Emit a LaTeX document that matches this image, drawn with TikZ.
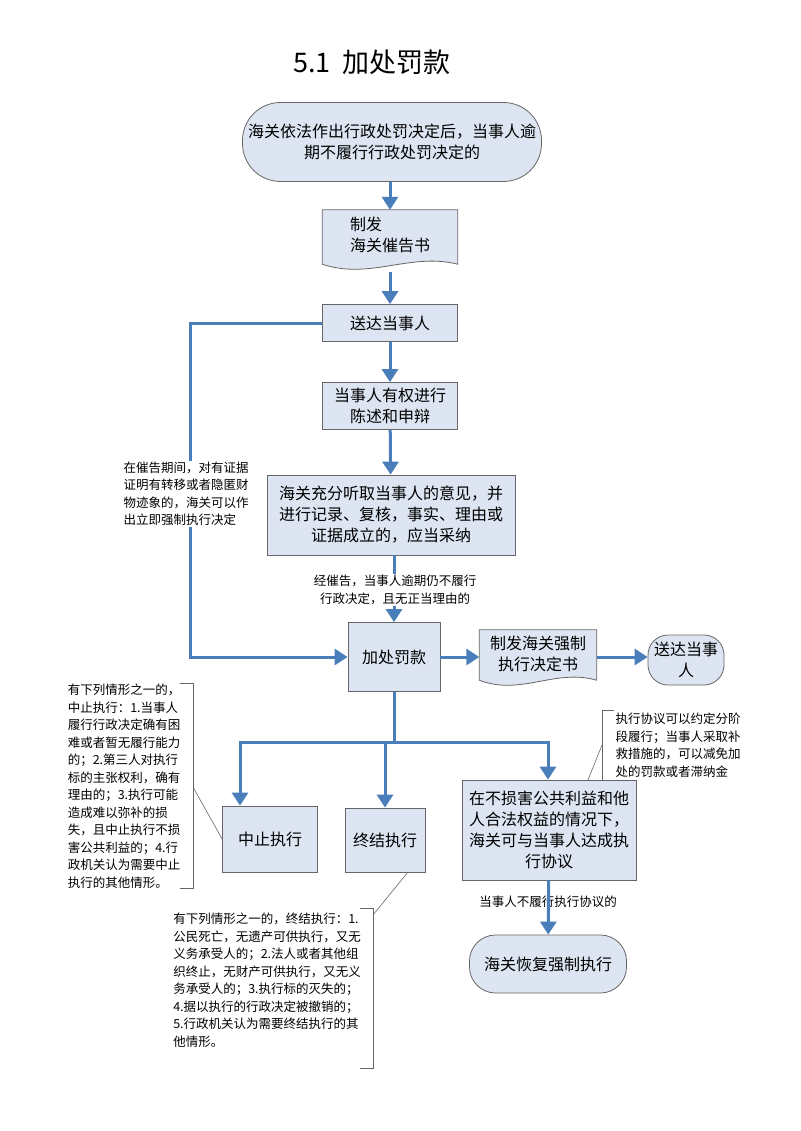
\documentclass[tikz,border=0pt]{standalone}
\usepackage{fontspec}
\setmainfont{Noto Sans CJK SC}
\usetikzlibrary{arrows.meta,calc}
\definecolor{fillc}{HTML}{DDE5F2}
\definecolor{arr}{HTML}{4A7EBB}
\tikzset{
 box/.style={draw=black!60,fill=fillc,line width=0.8pt,align=center,font=\fontsize{16}{21}\selectfont,inner sep=2pt},
 term/.style={box,rounded corners=22pt},
 flow/.style={draw=arr,line width=3pt,-{Triangle[length=13pt,width=16pt]}},
 link/.style={draw=arr,line width=3pt},
 note/.style={align=left,font=\fontsize{12.5}{17.5}\selectfont,inner sep=1pt},
 thin/.style={draw=black!60,line width=0.6pt}
}
\newcommand{\docpath}[1]{%
 \path[fill=fillc,draw=black!60,line width=0.8pt] (#1.north west) -- (#1.north east) -- ([yshift=4pt]#1.south east)
 .. controls ($(#1.south west)!0.65!(#1.south east)+(0,16pt)$) and ($(#1.south west)!0.35!(#1.south east)+(0,-12pt)$) .. ([yshift=4pt]#1.south west) -- cycle;}
\begin{document}
\begin{tikzpicture}[x=1pt,y=-1pt]
\useasboundingbox[fill=white] (0,0) rectangle (800,1131);
\node[font=\fontsize{27}{30}\selectfont] (title) at (372,62) {5.1\ \ 加处罚款};
\node[term,minimum width=299pt,minimum height=79pt,rounded corners=38pt] (start) at (392,142) {海关依法作出行政处罚决定后，当事人逾\\期不履行行政处罚决定的};
% doc 1
\node[minimum width=135pt,minimum height=58pt,inner sep=0pt] (doc1) at (390,239) {};
\docpath{doc1}
\node[font=\fontsize{16}{21}\selectfont,align=left] at (390,235) {制发\\海关催告书};
\node[box,minimum width=135pt,minimum height=37pt] (send) at (390,323) {送达当事人};
\node[box,minimum width=135pt,minimum height=47pt] (state) at (390,406) {当事人有权进行\\陈述和申辩};
\node[box,minimum width=248pt,minimum height=80pt] (hear) at (391,515) {海关充分听取当事人的意见，并\\进行记录、复核，事实、理由或\\证据成立的，应当采纳};
\node[note,align=center,fill=white] (lab1) at (395,590) {经催告，当事人逾期仍不履行\\行政决定，且无正当理由的};
\node[box,minimum width=92pt,minimum height=69pt] (fine) at (394,657) {加处罚款};
\node[minimum width=117pt,minimum height=54pt,inner sep=0pt] (doc2) at (538,657) {};
\docpath{doc2}
\node[font=\fontsize{16}{21}\selectfont,align=center] at (538,654) {制发海关强制\\执行决定书};
\node[term,minimum width=76pt,minimum height=50pt,rounded corners=20pt] (send2) at (686,660) {送达当事\\人};
\node[box,minimum width=95pt,minimum height=66pt] (stop) at (270,839) {中止执行};
\node[box,minimum width=80pt,minimum height=64pt] (end) at (385,840) {终结执行};
\node[box,minimum width=174pt,minimum height=100pt] (agree) at (549,830) {在不损害公共利益和他\\人合法权益的情况下，\\海关可与当事人达成执\\行协议};
\node[term,minimum width=157pt,minimum height=58pt,rounded corners=26pt] (resume) at (548,964) {海关恢复强制执行};
\node[note,align=center] (lab2) at (548,902) {当事人不履行执行协议的};
% arrows
\draw[flow] (start.south -| doc1) -- (doc1.north);
\draw[flow] ([yshift=-4pt]doc1.south) -- (send.north);
\draw[flow] (send) -- (state);
\draw[flow] (state) -- (hear);
\draw[link] (hear.south -| fine) -- (lab1.north -| fine);
\draw[flow] (lab1.south -| fine) -- (fine.north);
\draw[flow] (fine.east) -- (doc2.west |- fine.east);
\draw[flow] (doc2.east |- fine.east) -- (send2.west |- fine.east);
\coordinate (l1) at (190,323);
\coordinate (l2) at (190,657);
\draw[flow] (send.west) -- (l1) -- (l2) -- (fine.west);
\node[note,fill=white] (lab3) at (186,494) {在催告期间，对有证据\\证明有转移或者隐匿财\\物迹象的，海关可以作\\出立即强制执行决定};
\coordinate (b0) at (394,742);
\coordinate (b1) at (240,742);
\coordinate (b2) at (548,742);
\draw[link] (fine.south) -- (b0);
\draw[link] ([xshift=-1.5pt]b1) -- ([xshift=1.5pt]b2);
\draw[flow] (b1) -- (stop.north -| b1);
\draw[flow] (end.north |- b0) -- (end.north);
\draw[flow] (b2) -- (agree.north -| b2);
\draw[flow] (agree) -- (resume);
% notes
\node[note] (n1) at (124,786) {有下列情形之一的，\\中止执行：1.当事人\\履行行政决定确有困\\难或者暂无履行能力\\的；2.第三人对执行\\标的主张权利，确有\\理由的；3.执行可能\\造成难以弥补的损\\失，且中止执行不损\\害公共利益的；4.行\\政机关认为需要中止\\执行的其他情形。};
\coordinate (n1a) at (180,683); \coordinate (n1b) at (193,683);
\coordinate (n1c) at (193,888); \coordinate (n1d) at (180,888);
\draw[thin] (n1a) -- (n1b) -- (n1c) -- (n1d);
\coordinate (n1p) at (193,787);
\draw[thin] (n1p) -- (stop.west);
\node[note] (n2) at (267,980) {有下列情形之一的，终结执行：1.\\公民死亡，无遗产可供执行，又无\\义务承受人的；2.法人或者其他组\\织终止，无财产可供执行，又无义\\务承受人的；3.执行标的灭失的；\\4.据以执行的行政决定被撤销的；\\5.行政机关认为需要终结执行的其\\他情形。};
\coordinate (n2a) at (360,908); \coordinate (n2b) at (373,908);
\coordinate (n2c) at (373,1068); \coordinate (n2d) at (360,1068);
\draw[thin] (n2a) -- (n2b) -- (n2c) -- (n2d);
\coordinate (n2p) at (373,915);
\draw[thin] (n2p) -- (408,872);
\node[note] (n3) at (678,745) {执行协议可以约定分阶\\段履行；当事人采取补\\救措施的，可以减免加\\处的罚款或者滞纳金};
\coordinate (n3a) at (614,710); \coordinate (n3b) at (602,710);
\coordinate (n3c) at (602,780);
\draw[thin] (n3a) -- (n3b) -- (n3c);
\coordinate (n3p) at (602,745);
\draw[thin] (n3p) -- (588,780);
\end{tikzpicture}
\end{document}
